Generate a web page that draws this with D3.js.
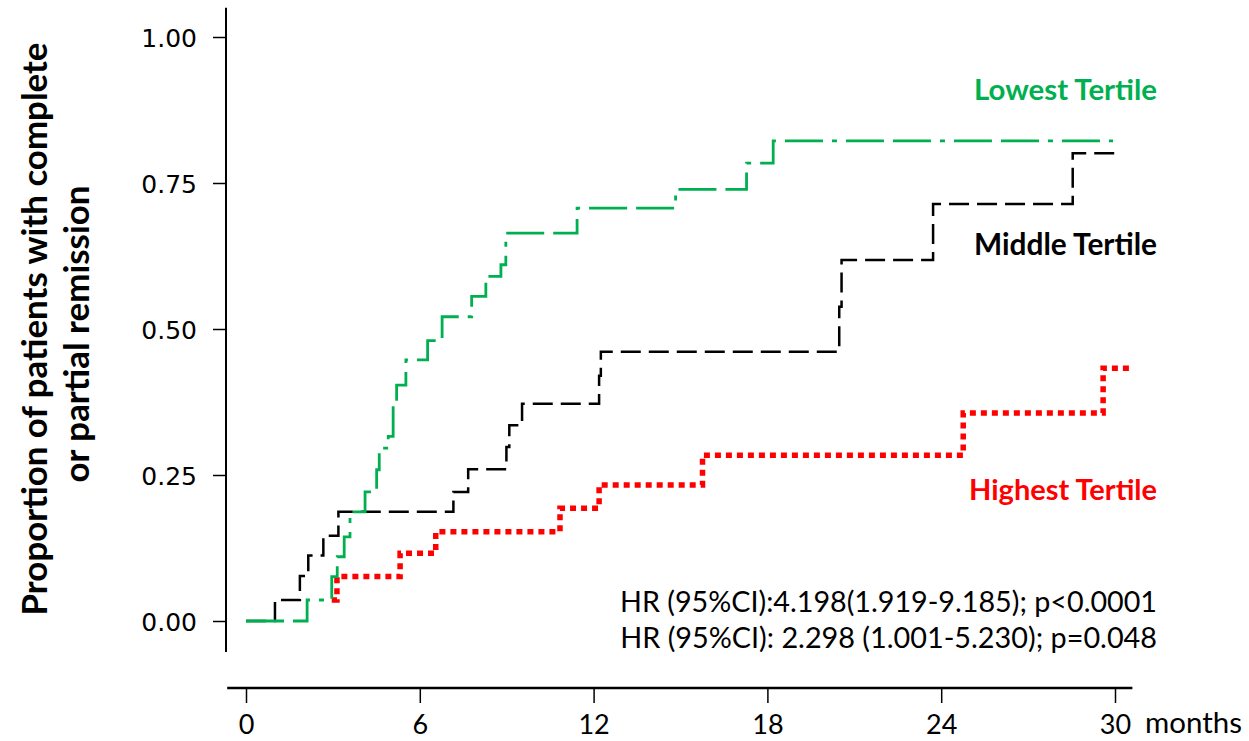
<!DOCTYPE html>
<html>
<head>
<meta charset="utf-8">
<script src="https://cdn.jsdelivr.net/npm/d3@7"></script>
<style>
  body { margin: 0; background: #fff; }
  svg { display: block; }
</style>
</head>
<body>
<svg width="1249" height="741"></svg>
<script>
// Kaplan-Meier style step data (months, proportion)
let lowTimes  = [0, 2.11, 2.96, 3.15, 3.39, 3.59, 4.11, 4.51, 4.60, 4.91, 5.08, 5.20, 5.52, 6.27, 6.77, 7.79, 8.28, 8.80, 8.97, 11.43, 14.83, 17.28, 18.20, 29.93];
let lowVals   = [0, 0.036, 0.076, 0.110, 0.144, 0.187, 0.221, 0.259, 0.296, 0.316, 0.373, 0.404, 0.447, 0.480, 0.521, 0.556, 0.590, 0.610, 0.664, 0.707, 0.739, 0.784, 0.822, 0.822];

let midTimes  = [0, 1.0, 1.86, 2.15, 2.67, 3.19, 7.16, 7.67, 8.99, 9.09, 9.53, 12.19, 12.25, 20.48, 20.56, 23.72, 28.54, 30.13];
let midVals   = [0, 0.036, 0.077, 0.112, 0.146, 0.187, 0.221, 0.260, 0.298, 0.335, 0.372, 0.420, 0.461, 0.538, 0.618, 0.714, 0.801, 0.801];

// the red curve only shows up from its first visible step
let highTimes = [2.96, 3.14, 5.32, 6.55, 10.84, 12.19, 15.76, 24.76, 29.59, 30.62];
let highVals  = [0.036, 0.076, 0.116, 0.153, 0.193, 0.233, 0.284, 0.356, 0.433, 0.433];

let xTicks = [0, 6, 12, 18, 24, 30];
let yTicks = [0, 0.25, 0.5, 0.75, 1];

let seriesNames = ["Lowest Tertile", "Middle Tertile", "Highest Tertile"];
let hrLines = ["HR (95%CI):4.198(1.919-9.185); p<0.0001",
               "HR (95%CI): 2.298 (1.001-5.230); p=0.048"];

let svg = d3.select("svg");

var x = d3.scaleLinear().domain([0, 30]).range([246, 1115]);
var y = d3.scaleLinear().domain([0, 1]).range([621, 37]);

// fit a text element to a width by scaling its font-size
function fitWidth(sel, w) {
  let node = sel.node();
  let fs = parseFloat(sel.attr("font-size"));
  let len = node.getComputedTextLength();
  sel.attr("font-size", (fs * w / len).toFixed(2));
  return fs * w / len;
}

// y axis
let yAxisG = svg.append("g").attr("transform", "translate(226,0)");
yAxisG.call(d3.axisLeft(y).tickValues(yTicks).tickSize(13).tickPadding(16)
    .tickFormat(d3.format(".2f")));
yAxisG.select(".domain").remove();
yAxisG.selectAll(".tick line").attr("stroke-width", 1.5);
yAxisG.selectAll(".tick text")
  .attr("font-family", "DejaVu Sans")
  .attr("font-size", 25)
  .attr("dy", "0.36em")
  .attr("fill", "#000");
yAxisG.append("line")
  .attr("x1", 0).attr("x2", 0)
  .attr("y1", y(1.05)).attr("y2", y(-0.053))
  .attr("stroke", "#000").attr("stroke-width", 2);

// x axis
let xAxisG = svg.append("g").attr("transform", "translate(0,688)");
xAxisG.call(d3.axisBottom(x).tickValues(xTicks).tickSize(15).tickPadding(12));
xAxisG.select(".domain").remove();
xAxisG.selectAll(".tick line").attr("stroke-width", 1.5);
xAxisG.selectAll(".tick text")
  .attr("font-family", "Lato")
  .attr("font-size", 27)
  .attr("dy", "0.71em")
  .attr("fill", "#000");
xAxisG.append("line")
  .attr("x1", x(-0.65)).attr("x2", x(30.6))
  .attr("y1", 0).attr("y2", 0)
  .attr("stroke", "#000").attr("stroke-width", 2.5);

svg.append("text")
  .attr("x", 1145).attr("y", 733)
  .attr("font-family", "Lato").attr("font-size", 28)
  .text("months")
  .call(fitWidth, 97);

// y axis title (two lines)
let t1 = svg.append("text")
  .attr("transform", "translate(47,329) rotate(-90)")
  .attr("text-anchor", "middle")
  .attr("font-family", "Lato").attr("font-weight", "bold").attr("font-size", 28)
  .text("Proportion of patients with complete");
let fsTitle = fitWidth(t1, 573);
svg.append("text")
  .attr("transform", "translate(89,334) rotate(-90)")
  .attr("text-anchor", "middle")
  .attr("font-family", "Lato").attr("font-weight", "bold").attr("font-size", fsTitle)
  .text("or partial remission");

// curves
let line = d3.line()
  .x(d => x(d[0]))
  .y(d => y(d[1]))
  .curve(d3.curveStepAfter);

let series = [
  {times: highTimes, vals: highVals, color: "#FF0000", width: 5.5, dash: "6,5"},
  {times: midTimes,  vals: midVals,  color: "#000000", width: 2.5, dash: "20,8"},
  {times: lowTimes,  vals: lowVals,  color: "#00B050", width: 2.8, dash: "38,9,38,9,5,9"}
];

svg.append("g").selectAll("path")
  .data(series)
  .join("path")
    .attr("d", s => line(s.times.map((t, i) => [t, s.vals[i]])))
    .attr("fill", "none")
    .attr("stroke", s => s.color)
    .attr("stroke-width", s => s.width)
    .attr("stroke-dasharray", s => s.dash);

// series labels
let labelPos = [100, 255, 500];
let labelColors = ["#00B050", "#000000", "#FF0000"];
let labelWidths = [183, 183, 188];
seriesNames.forEach((name, i) => {
  svg.append("text")
    .attr("x", 1157).attr("y", labelPos[i])
    .attr("text-anchor", "end")
    .attr("font-family", "Lato").attr("font-weight", "bold").attr("font-size", 28)
    .attr("fill", labelColors[i])
    .text(name)
    .call(fitWidth, labelWidths[i]);
});

// hazard ratio notes
hrLines.forEach((txt, i) => {
  svg.append("text")
    .attr("x", 1157).attr("y", 612 + i * 36)
    .attr("text-anchor", "end")
    .attr("font-family", "Lato").attr("font-size", 26)
    .attr("fill", "#000")
    .text(txt)
    .call(fitWidth, 537);
});
</script>
</body>
</html>
